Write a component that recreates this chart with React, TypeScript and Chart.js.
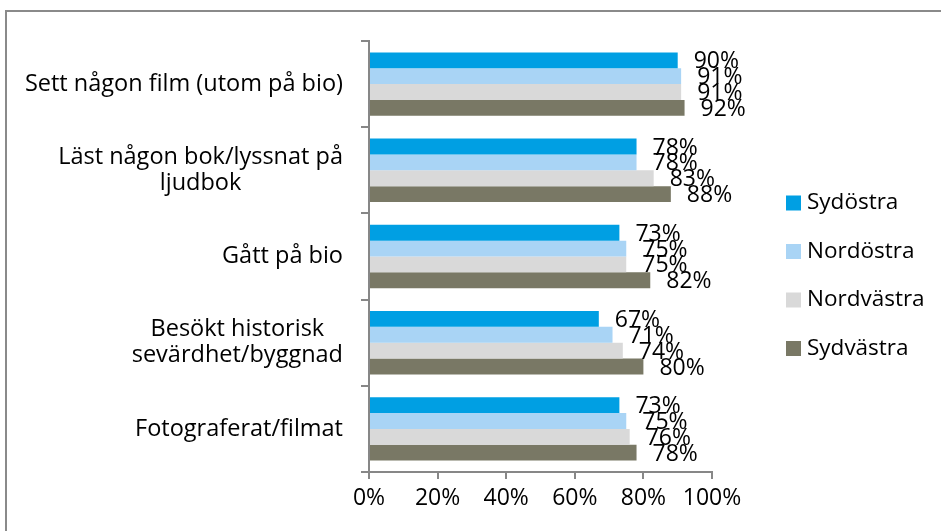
import React, { useEffect, useRef } from "react";
import { Chart, registerables } from "chart.js";

Chart.register(...registerables);

const categories: string[][] = [
  ["Sett någon film (utom på bio)"],
  ["Läst någon bok/lyssnat på", "ljudbok"],
  ["Gått på bio"],
  ["Besökt historisk", "sevärdhet/byggnad"],
  ["Fotograferat/filmat"],
];

const seriesNames = ["Sydöstra", "Nordöstra", "Nordvästra", "Sydvästra"];
const sydostra = [90, 78, 73, 67, 73];
const nordostra = [91, 78, 75, 71, 75];
const nordvastra = [91, 83, 75, 74, 76];
const sydvastra = [92, 88, 82, 80, 78];
const seriesColors = ["#009FE3", "#A9D4F5", "#D9D9D9", "#797865"];
const xTicks = [0, 20, 40, 60, 80, 100];

const FONT = "'Open Sans', sans-serif";
const AXIS_GRAY = "#878787";

const overlayPlugin = {
  id: "overlay",
  afterDatasetsDraw(chart: any) {
    const ctx = chart.ctx;
    ctx.save();
    // data labels
    ctx.font = `23px ${FONT}`;
    ctx.fillStyle = "#000";
    ctx.textAlign = "left";
    ctx.textBaseline = "middle";
    chart.data.datasets.forEach((ds: any, di: number) => {
      const meta = chart.getDatasetMeta(di);
      meta.data.forEach((bar: any, i: number) => {
        ctx.fillText(ds.data[i] + "%", bar.x + 16, bar.y + 1.5);
      });
    });
    // category labels
    const yScale = chart.scales.y;
    ctx.font = `23.5px ${FONT}`;
    ctx.textAlign = "center";
    const rightEdge = yScale.right - 26;
    const lineH = 26;
    categories.forEach((lines, i) => {
      const cy = yScale.getPixelForValue(i);
      const maxW = Math.max(...lines.map((l) => ctx.measureText(l).width));
      const cx = rightEdge - maxW / 2;
      const startY = cy - ((lines.length - 1) * lineH) / 2;
      lines.forEach((l, k) => ctx.fillText(l, cx, startY + k * lineH));
    });
    // legend
    ctx.font = `22.5px ${FONT}`;
    ctx.textAlign = "left";
    const lx = chart.chartArea.right + 74;
    const ly = 203;
    const gap = 48.5;
    seriesNames.forEach((name, k) => {
      const y = ly + k * gap;
      ctx.fillStyle = seriesColors[k];
      ctx.fillRect(lx, y - 7.5, 15, 15);
      ctx.fillStyle = "#000";
      ctx.fillText(name, lx + 21, y);
    });
    ctx.restore();
  },
};

export default function App() {
  const ref = useRef<HTMLCanvasElement | null>(null);
  useEffect(() => {
    if (!ref.current) return;
    const data = [sydostra, nordostra, nordvastra, sydvastra];
    const chart = new Chart(ref.current, {
      type: "bar",
      data: {
        labels: categories.map((c) => c.join(" ")),
        datasets: seriesNames.map((name, k) => ({
          label: name,
          data: data[k],
          backgroundColor: seriesColors[k],
          borderWidth: 0,
          categoryPercentage: 0.735,
          barPercentage: 1,
        })),
      },
      options: {
        indexAxis: "y",
        animation: false,
        responsive: false,
        maintainAspectRatio: false,
        layout: { padding: { top: 41, right: 229, left: 0, bottom: 0 } },
        plugins: { legend: { display: false }, tooltip: { enabled: false } },
        scales: {
          x: {
            min: 0,
            max: 100,
            afterBuildTicks: (s: any) => {
              s.ticks = xTicks.map((v) => ({ value: v }));
            },
            afterFit: (s: any) => {
              s.height = 59;
            },
            ticks: {
              callback: (v: any) => v + "%",
              color: "#000",
              font: { family: FONT, size: 23 },
              padding: 6,
              maxRotation: 0,
              autoSkip: false,
            },
            grid: {
              drawOnChartArea: false,
              tickLength: 7,
              tickColor: AXIS_GRAY,
              lineWidth: 2,
            },
            border: { color: AXIS_GRAY, width: 2 },
          },
          y: {
            afterFit: (s: any) => {
              s.width = 369;
            },
            ticks: { display: false },
            grid: {
              drawOnChartArea: false,
              offset: true,
              tickLength: 8,
              tickColor: AXIS_GRAY,
              lineWidth: 2,
            },
            border: { color: AXIS_GRAY, width: 2 },
          },
        },
      },
      plugins: [overlayPlugin],
    });
    return () => chart.destroy();
  }, []);
  return (
    <div
      style={{
        position: "fixed",
        left: 0,
        top: 0,
        width: 941,
        height: 531,
        overflow: "hidden",
        background: "#fff",
      }}
    >
      <div
        style={{
          position: "absolute",
          left: 5,
          top: 10,
          width: 2000,
          height: 2000,
          border: "2px solid #8a8a8a",
        }}
      />
      <canvas
        ref={ref}
        width={941}
        height={531}
        style={{ position: "absolute", left: 0, top: 0, width: 941, height: 531 }}
      />
    </div>
  );
}
